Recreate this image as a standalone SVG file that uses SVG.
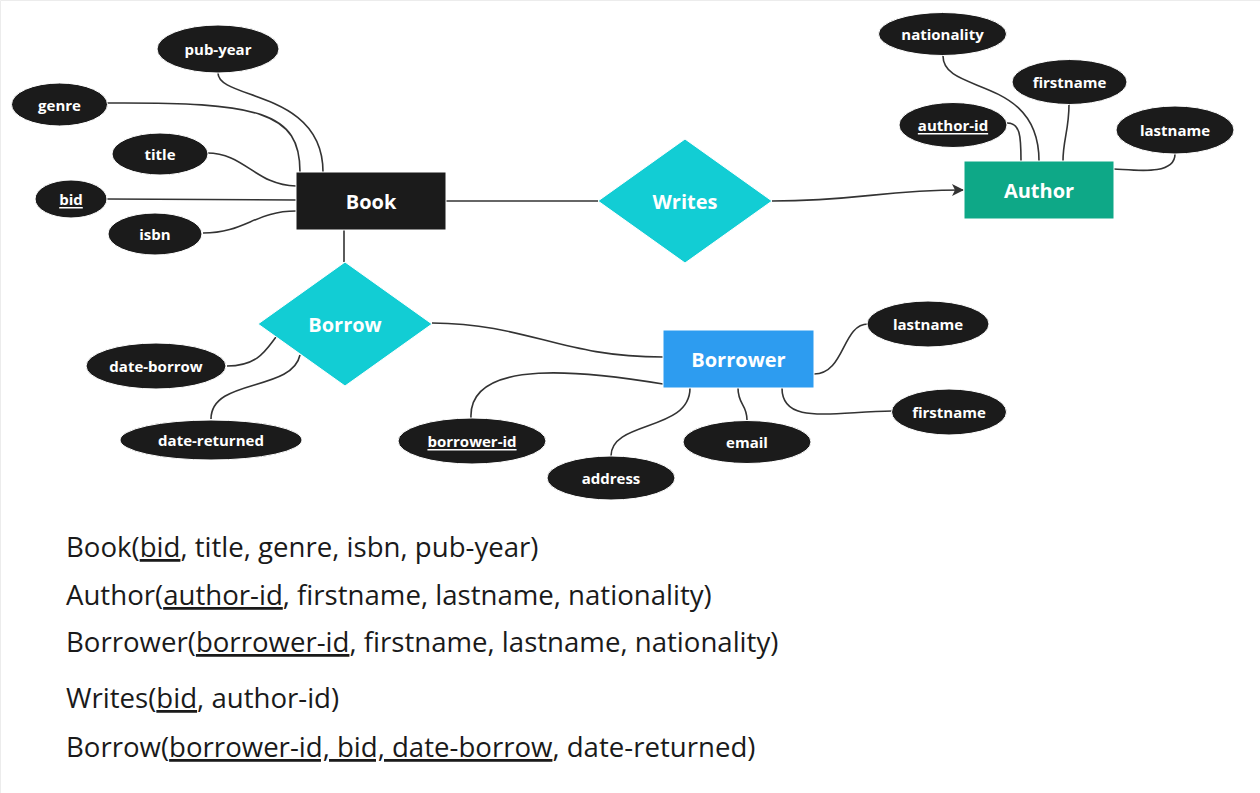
<svg xmlns="http://www.w3.org/2000/svg" width="1260" height="793" viewBox="0 0 1260 793">
<defs>
<style>
.attr{fill:#1b1b1b;stroke:#ffffff;stroke-width:1}
.lbl{font-family:"Open Sans","Noto Sans","Liberation Sans",sans-serif;font-weight:bold;fill:#ffffff;text-anchor:middle;dominant-baseline:central}
.al{font-size:15px}
.el{font-size:20px}
.conn path{fill:none;stroke:#333333;stroke-width:1.6}
.schema{font-family:"Open Sans","Noto Sans","Liberation Sans",sans-serif;font-size:27.6px;fill:#1a1a1a}
.u{text-decoration:underline}
</style>
<marker id="arrow" viewBox="0 0 12 12" refX="11" refY="6" markerWidth="12" markerHeight="12" markerUnits="userSpaceOnUse" orient="auto">
<path d="M0,0 L12,6 L0,12 L3,6 z" fill="#333333"/>
</marker>
</defs>
<rect width="1260" height="793" fill="#ffffff"/>
<path d="M0.5,793 L0.5,0.5 L1260,0.5" fill="none" stroke="#ececec" stroke-width="1"/>

<g id="connectors" class="conn">
<path d="M218,73 C218,100 323,90 323,172"/>
<path d="M107,103 C260,102 300,112 300,172"/>
<path d="M207,153 C245,153 255,185 296,186"/>
<path d="M107,199 L296,200"/>
<path d="M203,233 C245,233 255,211 296,211"/>
<path d="M344,230 L344,262"/>
<path d="M446,201 L598,201"/>
<path d="M772,201 C860,201 880,190 963,190" marker-end="url(#arrow)"/>
<path d="M943,56 C943,95 1039,75 1039,161"/>
<path d="M1069,104 C1069,130 1063,140 1063,161"/>
<path d="M1007,123 C1020,123 1021,135 1021,161"/>
<path d="M1175,154 C1175,176 1135,170 1114,169"/>
<path d="M227,366 C258,366 266,350 276,337"/>
<path d="M211,419 C211,378 292,392 300,355"/>
<path d="M432,323 C530,324 560,357 663,357"/>
<path d="M471,418 C468,356 590,372 663,384"/>
<path d="M690,388 C690,432 611,420 611,456"/>
<path d="M738,388 C738,405 747,404 747,420"/>
<path d="M782,388 C782,425 830,412 892,411"/>
<path d="M814,374 C845,374 842,324 868,324"/>
</g>

<g id="attr-pub-year"><ellipse class="attr" cx="218" cy="49" rx="61" ry="24"/><text class="lbl al" x="218" y="49">pub-year</text></g>
<g id="attr-genre"><ellipse class="attr" cx="59.5" cy="104.5" rx="48" ry="21.5"/><text class="lbl al" x="59.5" y="104.5">genre</text></g>
<g id="attr-title"><ellipse class="attr" cx="160" cy="154" rx="48" ry="21"/><text class="lbl al" x="160" y="154">title</text></g>
<g id="attr-bid"><ellipse class="attr" cx="71" cy="199" rx="36" ry="19"/><text class="lbl al u" x="71" y="199">bid</text></g>
<g id="attr-isbn"><ellipse class="attr" cx="155" cy="234" rx="47" ry="21"/><text class="lbl al" x="155" y="234">isbn</text></g>

<g id="entity-book"><rect x="296" y="172" width="150" height="58" fill="#1b1b1b" stroke="#ffffff" stroke-width="1"/><text class="lbl el" x="371" y="201">Book</text></g>

<g id="rel-writes"><polygon points="598,201 685,139 772,201 685,263" fill="#12cdd4" stroke="#ffffff" stroke-width="1"/><text class="lbl el" x="685" y="201">Writes</text></g>

<g id="entity-author"><rect x="964" y="161" width="150" height="58" fill="#0ea887" stroke="#ffffff" stroke-width="1"/><text class="lbl el" x="1039" y="190">Author</text></g>

<g id="attr-nationality"><ellipse class="attr" cx="942.5" cy="34" rx="64" ry="21.5"/><text class="lbl al" x="942.5" y="34">nationality</text></g>
<g id="attr-author-firstname"><ellipse class="attr" cx="1069.5" cy="82" rx="57.5" ry="22.5"/><text class="lbl al" x="1069.5" y="82">firstname</text></g>
<g id="attr-author-id"><ellipse class="attr" cx="953" cy="125" rx="54" ry="22.5"/><text class="lbl al u" x="953" y="125">author-id</text></g>
<g id="attr-author-lastname"><ellipse class="attr" cx="1175" cy="130" rx="59" ry="24"/><text class="lbl al" x="1175" y="130">lastname</text></g>

<g id="rel-borrow"><polygon points="258,324 345,262 432,324 345,386" fill="#12cdd4" stroke="#ffffff" stroke-width="1"/><text class="lbl el" x="345" y="324">Borrow</text></g>

<g id="attr-date-borrow"><ellipse class="attr" cx="156" cy="366" rx="70" ry="23"/><text class="lbl al" x="156" y="366">date-borrow</text></g>
<g id="attr-date-returned"><ellipse class="attr" cx="211" cy="440" rx="91" ry="20"/><text class="lbl al" x="211" y="440">date-returned</text></g>

<g id="entity-borrower"><rect x="663" y="330" width="151" height="58" fill="#2d9cf0" stroke="#ffffff" stroke-width="1"/><text class="lbl el" x="738.5" y="359">Borrower</text></g>

<g id="attr-borrower-lastname"><ellipse class="attr" cx="928" cy="324" rx="61" ry="23"/><text class="lbl al" x="928" y="324">lastname</text></g>
<g id="attr-borrower-firstname"><ellipse class="attr" cx="949" cy="412" rx="57.5" ry="23"/><text class="lbl al" x="949" y="412">firstname</text></g>
<g id="attr-email"><ellipse class="attr" cx="747" cy="442" rx="64" ry="21.5"/><text class="lbl al" x="747" y="442">email</text></g>
<g id="attr-address"><ellipse class="attr" cx="611" cy="478" rx="64" ry="22"/><text class="lbl al" x="611" y="478">address</text></g>
<g id="attr-borrower-id"><ellipse class="attr" cx="472" cy="441" rx="74" ry="23"/><text class="lbl al u" x="472" y="441">borrower-id</text></g>

<g id="schema">
<text class="schema" x="66" y="557">Book(<tspan class="u">bid</tspan>, title, genre, isbn, pub-year)</text>
<text class="schema" x="66" y="605">Author(<tspan class="u">author-id</tspan>, firstname, lastname, nationality)</text>
<text class="schema" x="66" y="652">Borrower(<tspan class="u">borrower-id</tspan>, firstname, lastname, nationality)</text>
<text class="schema" x="66" y="708">Writes(<tspan class="u">bid</tspan>, author-id)</text>
<text class="schema" x="66" y="757">Borrow(<tspan class="u">borrower-id, bid, date-borrow</tspan>, date-returned)</text>
</g>
</svg>
